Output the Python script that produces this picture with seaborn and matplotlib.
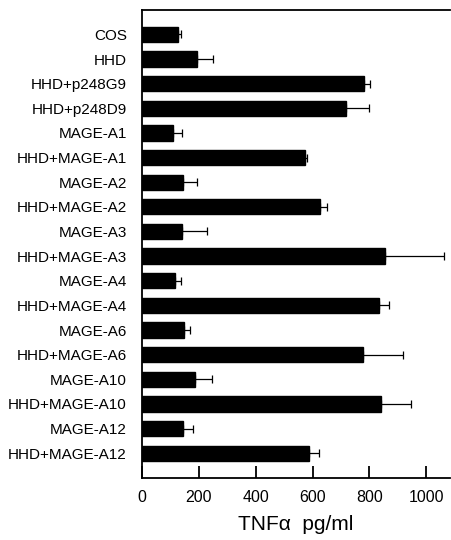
import numpy as np
import pandas as pd
import seaborn as sns
import matplotlib
matplotlib.use("Agg")
import matplotlib.pyplot as plt

samples = ["COS", "HHD", "HHD+p248G9", "HHD+p248D9", "MAGE-A1", "HHD+MAGE-A1",
           "MAGE-A2", "HHD+MAGE-A2", "MAGE-A3", "HHD+MAGE-A3", "MAGE-A4",
           "HHD+MAGE-A4", "MAGE-A6", "HHD+MAGE-A6", "MAGE-A10", "HHD+MAGE-A10",
           "MAGE-A12", "HHD+MAGE-A12"]
tnf = [127, 192, 780, 716, 108, 572, 145, 625, 142, 856, 117, 835, 147, 778,
       187, 842, 145, 587]
err = [9, 56, 22, 82, 32, 9, 49, 25, 87, 205, 20, 34, 23, 139, 59, 105, 33, 34]
xticks = [0, 200, 400, 600, 800, 1000]

sns.set_style("ticks")
plt.rcParams["font.family"] = ["Liberation Sans", "DejaVu Sans"]
plt.rcParams["text.color"] = "black"
plt.rcParams["axes.labelcolor"] = "black"
plt.rcParams["xtick.color"] = "black"
plt.rcParams["ytick.color"] = "black"

df = pd.DataFrame({"sample": samples, "tnf": tnf})

fig = plt.figure(figsize=(4.51, 5.4), dpi=100)
ax = fig.add_axes([0.315, 0.115, 0.683, 0.867])

sns.barplot(data=df, x="tnf", y="sample", color="black", width=0.62,
            errorbar=None, ax=ax, saturation=1)
for p in ax.patches:
    p.set_edgecolor("black")

# one-sided error bars
ax.errorbar(tnf, np.arange(len(samples)), xerr=[np.zeros(len(err)), err],
            fmt="none", ecolor="black", elinewidth=0.9, capsize=3, capthick=0.9)

ax.set_xlim(0, 1084)
ax.set_ylim(len(samples), -1)
ax.set_xticks(xticks)
ax.set_xticklabels([str(t) for t in xticks], fontsize=11.5)
ax.tick_params(axis="x", direction="in", length=9, width=1.3, pad=9)
ax.tick_params(axis="y", length=0, pad=11, labelsize=11)
ax.set_ylabel("")
ax.set_xlabel("TNFα  pg/ml", fontsize=15, labelpad=7)

for s in ["top", "left", "bottom"]:
    ax.spines[s].set_linewidth(1.3)
    ax.spines[s].set_color("black")
ax.spines["right"].set_visible(False)

fig.savefig("out.png", dpi=100)
